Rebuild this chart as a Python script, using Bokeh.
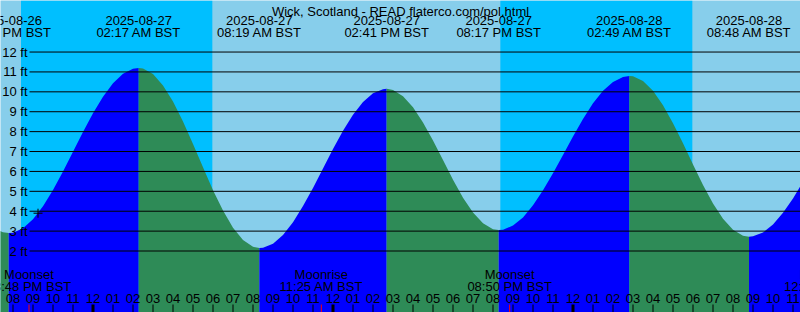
import numpy as np
import pandas as pd
from bokeh.plotting import figure
from bokeh.models import ColumnDataSource, LabelSet, Label, Range1d
from bokeh.core.properties import value
from bokeh.embed import file_html
from bokeh.resources import INLINE

# ---------------- data ----------------
title_text = "Wick, Scotland - READ flaterco.com/pol.html"

# high / low tide events
tide_times = ["2025-08-26 19:47", "2025-08-27 02:17", "2025-08-27 08:19",
              "2025-08-27 14:41", "2025-08-27 20:17", "2025-08-28 02:49",
              "2025-08-28 08:48"]
tide_heights = [2.9, 11.2, 2.15, 10.15, 3.05, 10.8, 2.72]

# half-hourly water level (ft), 2025-08-26 19:00 .. 2025-08-28 12:00
curve_times = pd.date_range("2025-08-26 19:00", "2025-08-28 12:00", freq="30min")
curve_heights = [3.18, 2.94, 2.92, 3.15, 3.60, 4.25, 5.07, 6.00, 6.99, 7.98,
                 8.92, 9.75, 10.43, 10.91, 11.16, 11.17, 10.89, 10.32, 9.51, 8.51,
                 7.38, 6.21, 5.06, 4.03, 3.17, 2.55, 2.21, 2.17, 2.37, 2.81,
                 3.45, 4.26, 5.17, 6.15, 7.13, 8.05, 8.85, 9.49, 9.93, 10.13,
                 10.09, 9.78, 9.22, 8.46, 7.55, 6.57, 5.58, 4.68, 3.93, 3.39,
                 3.09, 3.07, 3.28, 3.69, 4.30, 5.05, 5.91, 6.83, 7.76, 8.63,
                 9.42, 10.05, 10.50, 10.75, 10.78, 10.54, 10.05, 9.32, 8.42, 7.41,
                 6.35, 5.32, 4.39, 3.62, 3.07, 2.77, 2.74, 2.93, 3.33, 3.92,
                 4.64, 5.48, 6.36]

# night (sunset -> sunrise)
night_starts = ["2025-08-26 20:24", "2025-08-27 20:22"]
night_ends = ["2025-08-27 05:58", "2025-08-28 05:58"]

# moon events
moon_times = ["2025-08-26 20:48", "2025-08-27 11:25", "2025-08-27 20:50", "2025-08-28 12:40"]
moon_events = ["Moonset", "Moonrise", "Moonset", "Moonrise"]

# current time marker
now_time = "2025-08-26 21:15"
now_height = 3.9

# y gridlines / labels (ft)
ft_levels = [2, 3, 4, 5, 6, 7, 8, 9, 10, 11, 12]
ft_labels = [f"{v} ft" for v in ft_levels]

# hour ticks
hour_ticks = pd.date_range("2025-08-26 20:00", "2025-08-28 11:00", freq="h")
hour_labels = [t.strftime("%I") for t in hour_ticks]

# ---------------- helpers / style ----------------
T0 = pd.Timestamp("2025-08-26 00:00")


def hrs(ts):
    return np.asarray((pd.to_datetime(ts) - T0) / pd.Timedelta(hours=1), dtype=float)


DAY = "#87CEEB"
NIGHT = "#00BFFF"
RISE = "#0000FF"
FALL = "#2E8B57"
FONT = "Liberation Sans"
FS = "13px"

W, H = 800, 312
x_start, x_end = 19.375, 59.375
y_start, y_end = -1.09, 14.59
px_x = W / (x_end - x_start)
px_y = H / (y_end - y_start)

p = figure(width=W, height=H, x_range=Range1d(x_start, x_end),
           y_range=Range1d(y_start, y_end), output_backend="svg",
           toolbar_location=None, x_axis_location=None, y_axis_location=None,
           min_border=0, outline_line_color=None, background_fill_color=DAY,
           border_fill_color=DAY)
p.grid.visible = False

# night bands
p.quad(left=hrs(night_starts), right=hrs(night_ends), bottom=y_start, top=y_end,
       fill_color=NIGHT, line_color=None)

# tide curve fill (rising blue, falling green)
ext_t = hrs(tide_times)
pts_t = np.concatenate([hrs(curve_times), ext_t])
pts_h = np.concatenate([np.asarray(curve_heights, float), np.asarray(tide_heights, float)])
order = np.argsort(pts_t, kind="stable")
pts_t, pts_h = pts_t[order], pts_h[order]
bounds = [-np.inf] + list(ext_t) + [np.inf]
for a, b in zip(bounds[:-1], bounds[1:]):
    m = (pts_t >= a) & (pts_t <= b)
    t, h = pts_t[m], pts_h[m]
    if len(t) < 2:
        continue
    col = RISE if h[-1] > h[0] else FALL
    p.varea(x=t, y1=y_start, y2=h, fill_color=col)

# horizontal ft lines
gx0 = x_start + 29 / px_x
p.segment(x0=[gx0] * len(ft_levels), x1=[x_end] * len(ft_levels),
          y0=ft_levels, y1=ft_levels, line_color="black", line_width=1)

ft_src = ColumnDataSource(dict(y=ft_levels, text=ft_labels))
p.add_layout(LabelSet(x=27, y="y", text="text", source=ft_src, x_units="screen",
                      text_align="right", text_baseline="middle",
                      text_font=value(FONT), text_font_size=FS, text_color="black"))

# bottom ticks
ht = hrs(hour_ticks)
tick_top = y_start + 8 / px_y
is12 = np.array([t.hour % 12 == 0 for t in hour_ticks])
p.segment(x0=ht[~is12], x1=ht[~is12], y0=y_start, y1=tick_top, line_color="black", line_width=1)
p.segment(x0=ht[is12], x1=ht[is12], y0=y_start, y1=tick_top, line_color="black", line_width=3)
mt = hrs(moon_times)
p.segment(x0=mt, x1=mt, y0=y_start, y1=tick_top, line_color="red", line_width=1)

hour_src = ColumnDataSource(dict(x=ht, text=hour_labels))
p.add_layout(LabelSet(x="x", y=10, text="text", source=hour_src, y_units="screen",
                      text_align="center", text_baseline="alphabetic",
                      text_font=value(FONT), text_font_size=FS, text_color="black"))

# moon labels
mt_dt = pd.to_datetime(moon_times)
moon_src = ColumnDataSource(dict(
    x=mt, ev=moon_events,
    tm=[d.strftime("%I:%M %p BST") for d in mt_dt]))
p.add_layout(LabelSet(x="x", y=34, text="ev", source=moon_src, y_units="screen",
                      text_align="center", text_baseline="alphabetic",
                      text_font=value(FONT), text_font_size=FS, text_color="black"))
p.add_layout(LabelSet(x="x", y=22, text="tm", source=moon_src, y_units="screen",
                      text_align="center", text_baseline="alphabetic",
                      text_font=value(FONT), text_font_size=FS, text_color="black"))

# tide event labels at top
td = pd.to_datetime(tide_times)
top_src = ColumnDataSource(dict(
    x=ext_t, d=[t.strftime("%Y-%m-%d") for t in td],
    tm=[t.strftime("%I:%M %p BST") for t in td]))
p.add_layout(LabelSet(x="x", y=H - 24, text="d", source=top_src, y_units="screen",
                      text_align="center", text_baseline="alphabetic",
                      text_font=value(FONT), text_font_size=FS, text_color="black"))
p.add_layout(LabelSet(x="x", y=H - 36, text="tm", source=top_src, y_units="screen",
                      text_align="center", text_baseline="alphabetic",
                      text_font=value(FONT), text_font_size=FS, text_color="black"))

# title
p.add_layout(Label(x=W / 2, y=H - 11.3, text=title_text, x_units="screen", y_units="screen",
                   text_align="center", text_baseline="alphabetic",
                   text_font=FONT, text_font_size=FS, text_color="black"))

# current-time cross
p.scatter(x=hrs([now_time]), y=[now_height], marker="cross", size=9,
          line_color="black", line_width=1)

open("out.html", "w").write(file_html(p, INLINE))
